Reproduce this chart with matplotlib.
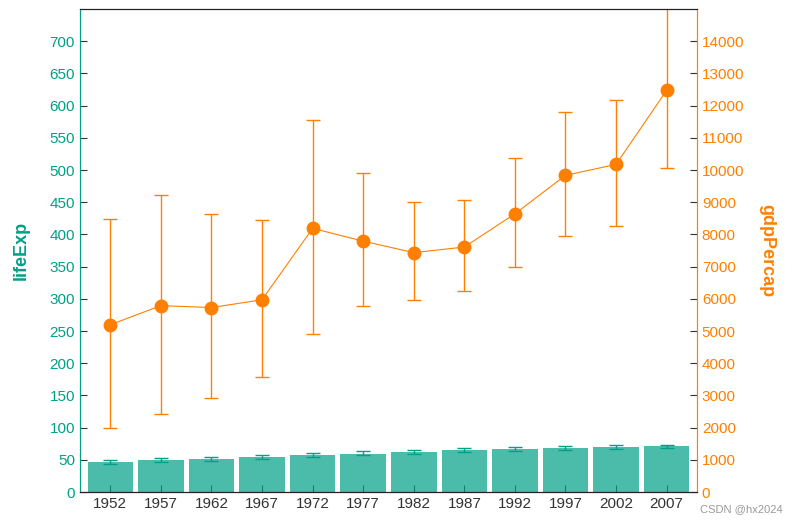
import matplotlib
matplotlib.use('Agg')
import matplotlib.pyplot as plt
import numpy as np

plt.rcParams['font.family'] = ['Liberation Sans', 'DejaVu Sans']

years = ['1952', '1957', '1962', '1967', '1972', '1977', '1982', '1987', '1992', '1997', '2002', '2007']

# lifeExp mean and error bar ends
life_mean = [46.3, 49.3, 51.6, 54.7, 57.3, 59.6, 62.6, 64.9, 66.5, 68.0, 69.2, 70.7]
life_low = [44.0, 47.1, 48.7, 51.8, 54.9, 56.9, 59.5, 62.6, 64.2, 65.7, 67.3, 68.8]
life_high = [50.2, 53.3, 54.9, 58.0, 61.1, 64.2, 65.7, 68.8, 70.4, 71.9, 73.5, 73.5]

# gdpPercap mean and error bar ends
gdp_mean = [5195, 5788, 5729, 5971, 8187, 7791, 7434, 7608, 8640, 9834, 10174, 12473]
gdp_low = [1977, 2412, 2909, 3562, 4897, 5767, 5953, 6233, 6978, 7941, 8251, 10053]
gdp_high = [8469, 9214, 8624, 8438, 11543, 9897, 8997, 9059, 10363, 11792, 12165, 16500]

teal = '#00A087'
orange = '#FF8000'

fig = plt.figure(figsize=(7.95, 5.2), dpi=100)
ax = fig.add_axes([0.1006, 0.0538, 0.7761, 0.9289])
x = np.arange(len(years))

life_mean = np.array(life_mean)
life_err = [life_mean - np.array(life_low), np.array(life_high) - life_mean]
ax.bar(x, life_mean, width=0.9, color=teal, alpha=0.7, zorder=2)
ax.errorbar(x, life_mean, yerr=life_err, fmt='none', ecolor=teal, elinewidth=1.0,
            capsize=5, capthick=1.0, zorder=3)
ax.set_xlim(-0.6, 11.6)
ax.set_ylim(0, 750)
ax.set_yticks(np.arange(0, 701, 50))
ax.set_xticks(x)
ax.set_xticklabels(years)
ax.set_ylabel('lifeExp', color=teal, fontsize=13, fontweight='bold', labelpad=14)
ax.tick_params(axis='y', direction='in', colors='#333333', labelcolor=teal, labelsize=11, length=5)
ax.tick_params(axis='x', direction='in', colors='#333333', labelcolor='#333333', labelsize=11, length=5)

ax2 = ax.twinx()
gdp_mean = np.array(gdp_mean)
gdp_err = [gdp_mean - np.array(gdp_low), np.array(gdp_high) - gdp_mean]
ax2.errorbar(x, gdp_mean, yerr=gdp_err, color=orange, ecolor=orange, lw=0.8, elinewidth=1.0,
             marker='o', markersize=9, capsize=5, capthick=1.0)
ax2.set_ylim(0, 15000)
ax2.set_yticks(np.arange(0, 14001, 1000))
ax2.set_ylabel('gdpPercap', color=orange, fontsize=13, fontweight='bold', rotation=270, labelpad=22)
ax2.tick_params(axis='y', direction='in', colors='#333333', labelcolor=orange, labelsize=11, length=5)

ax2.spines['left'].set_color(teal)
ax2.spines['right'].set_color(orange)
ax2.spines['top'].set_color('#222222')
ax2.spines['bottom'].set_color('#222222')
ax.spines['left'].set_color(teal)
ax.spines['right'].set_color(orange)

fig.text(0.985, 0.012, 'CSDN @hx2024', ha='right', va='bottom', fontsize=8, color='#999999')

fig.savefig('out.png', dpi=100)
